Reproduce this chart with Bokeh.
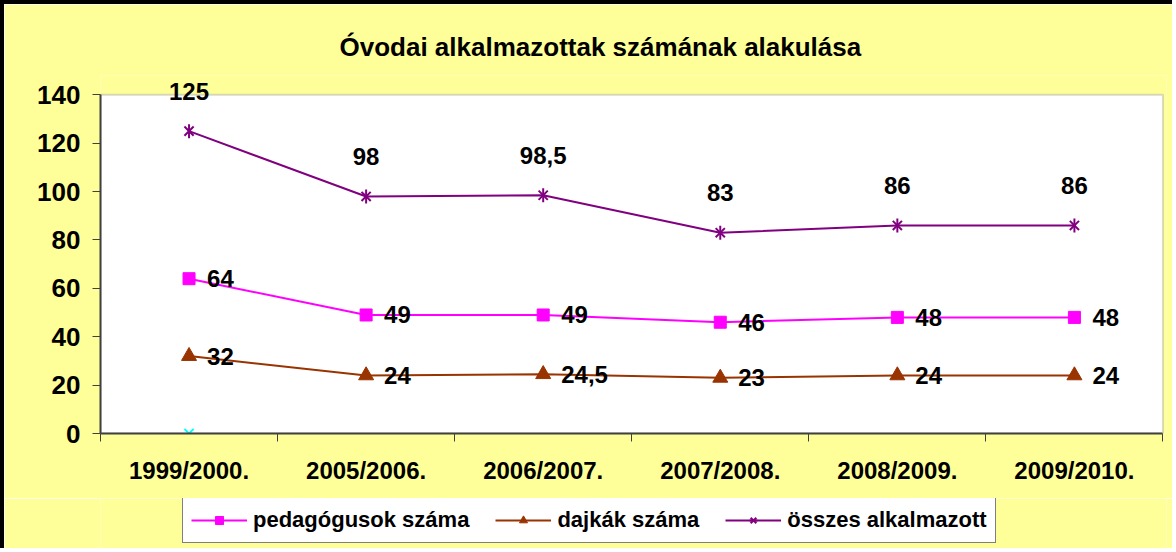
import math
from bokeh.plotting import figure
from bokeh.layouts import column
from bokeh.models import ColumnDataSource, Range1d, FixedTicker, Legend, BoxAnnotation
from bokeh.core.properties import value
from bokeh.embed import file_html
from bokeh.resources import INLINE

# ---- data ----
categories = ["1999/2000.", "2005/2006.", "2006/2007.", "2007/2008.", "2008/2009.", "2009/2010."]
pedagogusok = [64, 49, 49, 46, 48, 48]
dajkak = [32, 24, 24.5, 23, 24, 24]
osszes = [125, 98, 98.5, 83, 86, 86]
extra = [0]  # lone cyan point on the first category
y_ticks = [0, 20, 40, 60, 80, 100, 120, 140]
title_text = "Óvodai alkalmazottak számának alakulása"
names = ["pedagógusok száma", "dajkák száma", "összes alkalmazott"]

FONT_NAME = "Liberation Sans"
FONT = value(FONT_NAME)
YELLOW = "#FFFF99"
PINK, BROWN, PURPLE, CYAN = "#FF00FF", "#993300", "#800080", "#00FFFF"

n = len(categories)
xs = [i + 0.5 for i in range(n)]
ymin, ymax = y_ticks[0], y_ticks[-1]

def fmt(v):
    return f"{v:g}".replace(".", ",")

p = figure(width=1172, height=498, output_backend="svg", toolbar_location=None,
           x_range=Range1d(0, n + 0.02), y_range=Range1d(ymin, ymax + 8),
           min_border_left=96, min_border_top=71, min_border_right=10, min_border_bottom=69,
           background_fill_color=YELLOW, border_fill_color=YELLOW,
           outline_line_color=None)
p.styles = {"border-top": "4px solid black", "border-left": "4px solid black"}

# white plot area with grey outline, spanning the value range
p.add_layout(BoxAnnotation(left=0, right=n, bottom=ymin, top=ymax, fill_color="white", fill_alpha=1,
                           line_color="#808080", line_width=2, level="underlay"))

p.xgrid.grid_line_color = None
p.ygrid.grid_line_color = None

# title
p.title.text = title_text
p.title.align = "left"
p.title.offset = 239
p.title.standoff = 27
p.title.text_font = FONT_NAME
p.title.text_font_style = "bold"
p.title.text_font_size = "26px"
p.title.text_color = "black"

# x axis: labels at centers, ticks at boundaries
xa = p.xaxis[0]
xa.bounds = (0, n)
xa.ticker = FixedTicker(ticks=xs, minor_ticks=list(range(n + 1)))
xa.major_label_overrides = {x: c for x, c in zip(xs, categories)}
xa.major_tick_line_color = None
xa.major_tick_out = 0
xa.major_tick_in = 0
xa.minor_tick_out = 8
xa.minor_tick_in = 0
xa.minor_tick_line_color = "#404040"
xa.minor_tick_line_width = 1
xa.axis_line_color = "#404040"
xa.axis_line_width = 2
xa.major_label_standoff = 15
xa.major_label_text_font = FONT_NAME
xa.major_label_text_font_style = "bold"
xa.major_label_text_font_size = "24px"
xa.major_label_text_color = "black"

ya = p.yaxis[0]
ya.bounds = (ymin, ymax)
ya.ticker = FixedTicker(ticks=y_ticks)
ya.major_tick_out = 8
ya.major_tick_in = 0
ya.minor_tick_line_color = None
ya.major_tick_line_color = "#404040"
ya.axis_line_color = "#404040"
ya.axis_line_width = 2
ya.major_label_standoff = 12
ya.major_label_text_font = FONT_NAME
ya.major_label_text_font_style = "bold"
ya.major_label_text_font_size = "26px"
ya.major_label_text_color = "black"

def src(vals):
    return ColumnDataSource(dict(x=xs[:len(vals)], y=vals, label=[fmt(v) for v in vals]))

s_ped = src(pedagogusok)
s_daj = src(dajkak)
s_ossz = src(osszes)
s_extra = src(extra)

def draw_series(fig, s):
    r1 = fig.line("x", "y", source=s[0], line_color=PINK, line_width=2)
    m1 = fig.scatter("x", "y", source=s[0], marker="square", size=12, fill_color=PINK, line_color=PINK)
    r2 = fig.line("x", "y", source=s[1], line_color=BROWN, line_width=2)
    m2 = fig.scatter("x", "y", source=s[1], marker="triangle", size=15, fill_color=BROWN, line_color=BROWN)
    r3 = fig.line("x", "y", source=s[2], line_color=PURPLE, line_width=2)
    m3a = fig.scatter("x", "y", source=s[2], marker="x", size=13, line_color=PURPLE, line_width=2)
    m3b = fig.scatter("x", "y", source=s[2], marker="dash", size=14, angle=math.pi / 2,
                      line_color=PURPLE, line_width=2)
    return [[r1, m1], [r2, m2], [r3, m3a, m3b]]

sources = [s_ped, s_daj, s_ossz]
draw_series(p, sources)
p.scatter("x", "y", source=s_extra, marker="x", size=13, line_color=CYAN, line_width=2)

lbl = dict(text_font=FONT, text_font_style="bold", text_font_size="24px", text_color="black",
           text_baseline="middle")
p.text("x", "y", text="label", source=s_ped, x_offset=18, text_align="left", **lbl)
p.text("x", "y", text="label", source=s_daj, x_offset=18, text_align="left", **lbl)
p.text("x", "y", text="label", source=s_ossz, y_offset=-40, text_align="center", **lbl)

# legend strip below the chart: same series, drawn outside its (empty) view range
pl = figure(width=1172, height=50, output_backend="svg", toolbar_location=None,
            x_range=Range1d(0, n), y_range=Range1d(-2, -1), x_axis_type=None, y_axis_type=None,
            min_border=0, background_fill_color=YELLOW, border_fill_color=YELLOW,
            outline_line_color=None)
pl.styles = {"border-left": "4px solid black"}
pl.xgrid.grid_line_color = None
pl.ygrid.grid_line_color = None
leg_r = draw_series(pl, sources)

legend = Legend(items=[(nm, rs) for nm, rs in zip(names, leg_r)],
                location=(82, 5), orientation="horizontal",
                glyph_width=56, glyph_height=20, label_standoff=6, spacing=26, padding=8,
                label_height=28, margin=0,
                label_text_font=FONT_NAME, label_text_font_style="bold", label_text_font_size="22px",
                label_text_color="black",
                border_line_color="black", border_line_width=1, background_fill_color="white",
                background_fill_alpha=1)
pl.add_layout(legend, "center")

layout = column(p, pl, spacing=0)
open("out.html", "w").write(file_html(layout, INLINE))
